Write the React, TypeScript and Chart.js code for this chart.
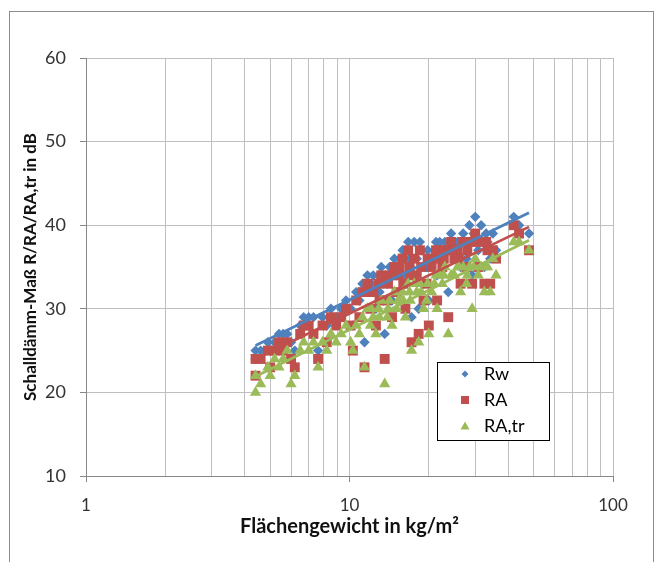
import React, { useEffect, useRef } from "react";
import { Chart, registerables } from "chart.js";

Chart.register(...registerables);

// Flächengewicht in kg/m² (one entry per measured element)
const massX = [
  4.4, 4.4, 4.6, 4.9, 5.0, 5.2, 5.4, 5.6, 5.8, 6.0,
  6.2, 6.5, 6.7, 7.0, 7.3, 7.6, 7.9, 8.2, 8.5, 8.9,
  9.3, 9.7, 10.1, 10.3, 10.6, 10.9, 11.2, 11.4, 11.7, 12.0,
  12.1, 12.3, 12.6, 12.9, 13.0, 13.2, 13.6, 13.9, 14.0, 14.2,
  14.5, 14.8, 15.1, 15.3, 15.5, 15.9, 16.0, 16.3, 16.7, 16.9,
  17.0, 17.2, 17.6, 18.0, 18.3, 18.5, 18.7, 19.1, 19.6, 19.8,
  20.0, 20.5, 21.0, 21.3, 21.5, 22.0, 22.5, 22.8, 23.0, 23.7,
  24.3, 24.8, 25.0, 25.7, 26.0, 26.4, 27.0, 27.8, 28.0, 28.5,
  29.2, 29.6, 30.0, 30.8, 31.6, 32.5, 33.0, 33.4, 34.2, 35.0,
  36.0, 42.0, 44.0, 48.0,
];
const rwValues = [
  25, 24, 25, 26, 25, 26, 27, 27, 27, 26,
  25, 28, 29, 29, 29, 25, 29, 28, 30, 29,
  30, 31, 30, 28, 32, 31, 33, 26, 34, 32,
  33, 34, 30, 34, 32, 35, 27, 33, 34, 35,
  31, 36, 34, 35, 36, 37, 34, 33, 38, 36,
  35, 29, 38, 36, 30, 38, 37, 33, 35, 37,
  31, 36, 37, 38, 34, 38, 36, 37, 38, 32,
  39, 38, 37, 38, 38, 35, 39, 36, 38, 40,
  34, 39, 41, 37, 40, 35, 39, 38, 36, 39,
  37, 41, 40, 39,
];
const raValues = [
  24, 22, 24, 25, 23, 25, 26, 25, 26, 24,
  23, 27, 28, 28, 27, 24, 28, 26, 29, 28,
  29, 30, 28, 25, 31, 29, 32, 23, 33, 30,
  32, 32, 28, 33, 31, 34, 24, 31, 33, 34,
  29, 35, 32, 34, 35, 36, 33, 30, 37, 35,
  34, 26, 36, 34, 27, 37, 35, 31, 33, 36,
  28, 35, 36, 37, 31, 37, 35, 36, 37, 29,
  38, 37, 36, 37, 36, 33, 38, 35, 37, 38,
  33, 38, 39, 35, 38, 33, 38, 37, 33, 37,
  36, 40, 39, 37,
];
const raTrValues = [
  22, 20, 21, 23, 22, 24, 23, 24, 25, 21,
  22, 25, 26, 25, 26, 23, 26, 25, 27, 26,
  27, 28, 26, 25, 28, 27, 29, 23, 30, 28,
  30, 29, 27, 30, 29, 31, 21, 29, 30, 31,
  28, 32, 30, 31, 31, 32, 31, 29, 33, 32,
  31, 25, 33, 32, 26, 33, 32, 30, 31, 33,
  27, 32, 33, 34, 30, 34, 33, 34, 35, 27,
  34, 34, 34, 35, 35, 32, 35, 33, 34, 35,
  30, 35, 36, 34, 35, 32, 35, 35, 32, 36,
  34, 38, 38, 37,
];

// logarithmic trend lines (start / end)
const trendX = [4.4, 48];
const trendRw = [25.6, 41.5];
const trendRA = [24.0, 39.8];
const trendRATr = [21.9, 38.2];

const seriesLabels = ["Rw", "RA", "RA,tr"];
const seriesColors = ["#4F81BD", "#C0504D", "#9BBB59"];
const xGridValues = [1, 2, 3, 4, 5, 6, 7, 8, 9, 10, 20, 30, 40, 50, 60, 70, 80, 90, 100];
const xTickLabels = [1, 10, 100];
const yMin = 10;
const yMax = 60;
const yStep = 10;

const FONT = "Lato, 'Open Sans', 'DejaVu Sans', sans-serif";

const toPoints = (xs: number[], ys: number[]) => xs.map((x, i) => ({ x, y: ys[i] }));

const boxLegend = {
  id: "boxLegend",
  afterDraw(chart: any) {
    const ctx = chart.ctx as CanvasRenderingContext2D;
    const { right, bottom } = chart.chartArea;
    const x0 = right - 176;
    const y0 = bottom - 114;
    const w = 112;
    const h = 78;
    ctx.save();
    ctx.fillStyle = "#ffffff";
    ctx.fillRect(x0, y0, w, h);
    ctx.strokeStyle = "#000000";
    ctx.lineWidth = 1;
    ctx.strokeRect(x0 + 0.5, y0 + 0.5, w, h);
    ctx.font = `18px ${FONT}`;
    ctx.textBaseline = "middle";
    const rows = [y0 + 12, y0 + 38, y0 + 64];
    seriesLabels.forEach((label, i) => {
      const mx = x0 + 28;
      const my = rows[i];
      ctx.fillStyle = seriesColors[i];
      ctx.beginPath();
      if (i === 0) {
        ctx.moveTo(mx - 3.5, my);
        ctx.lineTo(mx, my - 3.5);
        ctx.lineTo(mx + 3.5, my);
        ctx.lineTo(mx, my + 3.5);
      } else if (i === 1) {
        ctx.rect(mx - 4, my - 4, 8, 8);
      } else {
        ctx.moveTo(mx, my - 4.5);
        ctx.lineTo(mx + 4.5, my + 3.5);
        ctx.lineTo(mx - 4.5, my + 3.5);
      }
      ctx.closePath();
      ctx.fill();
      ctx.fillStyle = "#000000";
      ctx.fillText(label, x0 + 47, my);
    });
    ctx.restore();
  },
};

export default function App() {
  const canvasRef = useRef<HTMLCanvasElement>(null);

  useEffect(() => {
    if (!canvasRef.current) return;
    const chart = new Chart(canvasRef.current, {
      type: "scatter",
      data: {
        datasets: [
          {
            label: "Trend Rw",
            data: toPoints(trendX, trendRw),
            showLine: true,
            borderColor: seriesColors[0],
            borderWidth: 2.75,
            pointRadius: 0,
            order: 0,
          },
          {
            label: "Trend RA",
            data: toPoints(trendX, trendRA),
            showLine: true,
            borderColor: seriesColors[1],
            borderWidth: 2.75,
            pointRadius: 0,
            order: 0,
          },
          {
            label: "Trend RA,tr",
            data: toPoints(trendX, trendRATr),
            showLine: true,
            borderColor: seriesColors[2],
            borderWidth: 2.75,
            pointRadius: 0,
            order: 0,
          },
          {
            label: seriesLabels[0],
            data: toPoints(massX, rwValues),
            pointStyle: "rectRot",
            pointRadius: 5.2,
            backgroundColor: seriesColors[0],
            borderColor: seriesColors[0],
            borderWidth: 0,
            order: 3,
          },
          {
            label: seriesLabels[1],
            data: toPoints(massX, raValues),
            pointStyle: "rect",
            pointRadius: 7,
            backgroundColor: seriesColors[1],
            borderColor: seriesColors[1],
            borderWidth: 0,
            order: 2,
          },
          {
            label: seriesLabels[2],
            data: toPoints(massX, raTrValues),
            pointStyle: "triangle",
            pointRadius: 6.5,
            backgroundColor: seriesColors[2],
            borderColor: seriesColors[2],
            borderWidth: 0,
            order: 1,
          },
        ],
      },
      options: {
        responsive: false,
        animation: false,
        devicePixelRatio: 1,
        layout: { padding: { top: 58, right: 44, bottom: 10, left: 0 } },
        plugins: {
          legend: { display: false },
          tooltip: { enabled: false },
        },
        scales: {
          x: {
            type: "logarithmic",
            min: 1,
            max: 100,
            afterBuildTicks: (scale: any) => {
              scale.ticks = xGridValues.map((v) => ({ value: v, major: xTickLabels.includes(v) }));
            },
            afterFit: (scale: any) => {
              scale.height = 76;
            },
            ticks: {
              autoSkip: false,
              maxRotation: 0,
              padding: 13,
              color: "#333333",
              font: { family: FONT, size: 17 },
              callback: (value: any) => (xTickLabels.includes(Number(value)) ? String(value) : ""),
            },
            grid: {
              color: "#bfbfbf",
              lineWidth: 1,
              tickLength: 6,
              tickColor: (ctx: any) =>
                ctx.tick && xTickLabels.includes(ctx.tick.value) ? "#868686" : "rgba(0,0,0,0)",
            },
            border: { color: "#868686", width: 1 },
            title: {
              display: true,
              text: "Flächengewicht in kg/m²",
              color: "#111111",
              font: { family: FONT, size: 20, weight: "bold" },
              padding: { top: 0, bottom: 13 },
            },
          },
          y: {
            type: "linear",
            min: yMin,
            max: yMax,
            afterFit: (scale: any) => {
              scale.width = 86;
            },
            ticks: {
              stepSize: yStep,
              padding: 14,
              color: "#333333",
              font: { family: FONT, size: 18 },
            },
            grid: {
              color: "#bfbfbf",
              lineWidth: 1,
              tickLength: 6,
              tickColor: "#868686",
            },
            border: { color: "#868686", width: 1 },
            title: {
              display: true,
              text: "Schalldämm-Maß R/RA/RA,tr in dB",
              color: "#111111",
              font: { family: FONT, size: 17, weight: "bold" },
              padding: { top: 20, bottom: 0 },
            },
          },
        },
      },
      plugins: [boxLegend],
    } as any);
    return () => chart.destroy();
  }, []);

  return (
    <div
      style={{
        position: "absolute",
        left: 0,
        top: 0,
        width: 657,
        height: 562,
        overflow: "hidden",
        background: "#ffffff",
      }}
    >
      <div
        style={{
          position: "absolute",
          left: 9,
          top: 11,
          width: 645,
          height: 600,
          border: "1px solid #8c8c8c",
          boxSizing: "border-box",
        }}
      />
      <canvas
        ref={canvasRef}
        width={657}
        height={562}
        style={{ position: "absolute", left: 0, top: 0, width: 657, height: 562 }}
      />
    </div>
  );
}
